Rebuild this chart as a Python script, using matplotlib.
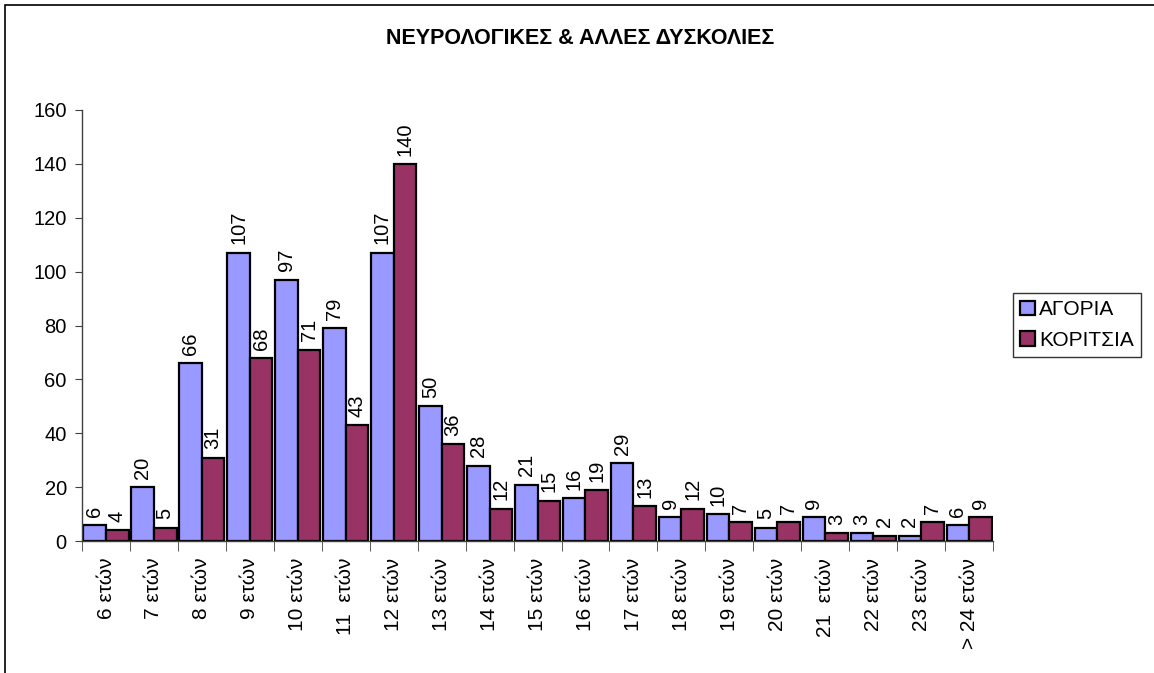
import numpy as np
import matplotlib
matplotlib.use("Agg")
import matplotlib.pyplot as plt
from matplotlib.patches import Rectangle

plt.rcParams["font.family"] = ["Liberation Sans", "DejaVu Sans"]

# ---- Data ----
categories = ["6 ετών", "7 ετών", "8 ετών", "9 ετών", "10 ετών", "11  ετών",
              "12 ετών", "13 ετών", "14 ετών", "15 ετών", "16 ετών", "17 ετών",
              "18 ετών", "19 ετών", "20 ετών", "21  ετών", "22 ετών", "23 ετών",
              "> 24 ετών"]
boys = [6, 20, 66, 107, 97, 79, 107, 50, 28, 21, 16, 29, 9, 10, 5, 9, 3, 2, 6]
girls = [4, 5, 31, 68, 71, 43, 140, 36, 12, 15, 19, 13, 12, 7, 7, 3, 2, 7, 9]

blue = "#9999FF"
red = "#993366"

fig = plt.figure(figsize=(11.54, 6.73), dpi=100)
ax = fig.add_axes([0.0711, 0.196, 0.7894, 0.6406])

# outer chart border (left and top visible)
fig.patches.append(Rectangle((5 / 1154, -0.1), 1.2, 1 - 5 / 673 + 0.1,
                             transform=fig.transFigure, fill=False,
                             edgecolor="black", linewidth=1.2))

x = np.arange(len(categories))
w = 0.47
b1 = ax.bar(x - w / 2, boys, w, color=blue, edgecolor="black", linewidth=1.6, label="ΑΓΟΡΙΑ")
b2 = ax.bar(x + w / 2, girls, w, color=red, edgecolor="black", linewidth=1.6, label="ΚΟΡΙΤΣΙΑ")

for bars in (b1, b2):
    ax.bar_label(bars, rotation=90, padding=6, fontsize=14.5)

ax.set_xlim(-0.5, len(categories) - 0.5)
ax.set_ylim(0, 160)
ax.set_yticks(range(0, 161, 20))
ax.tick_params(axis="y", labelsize=14.5, direction="out", length=5, color="#404040", pad=6)

# category labels centred, tick marks at boundaries
ax.set_xticks(x)
ax.set_xticklabels(categories, rotation=90, fontsize=15)
ax.tick_params(axis="x", length=0, pad=12)
ax.set_xticks(np.arange(-0.5, len(categories), 1), minor=True)
ax.tick_params(axis="x", which="minor", length=7, direction="out", color="#404040")

for side in ("top", "right"):
    ax.spines[side].set_visible(False)
for side in ("left", "bottom"):
    ax.spines[side].set_color("#404040")
    ax.spines[side].set_linewidth(1.0)

fig.text(0.503, 0.943, "ΝΕΥΡΟΛΟΓΙΚΕΣ & ΑΛΛΕΣ ΔΥΣΚΟΛΙΕΣ", ha="center", va="center",
         fontsize=15.5, fontweight="bold")

leg = fig.legend(handles=[b1, b2], loc="center left", bbox_to_anchor=(1013 / 1154, 1 - 325 / 673),
                 fontsize=15, frameon=True, fancybox=False, edgecolor="black",
                 handlelength=0.7, handleheight=0.7, handletextpad=0.2,
                 borderpad=0.35, labelspacing=0.55, borderaxespad=0)
leg.get_frame().set_linewidth(1.0)

fig.savefig("out.png", dpi=100)
